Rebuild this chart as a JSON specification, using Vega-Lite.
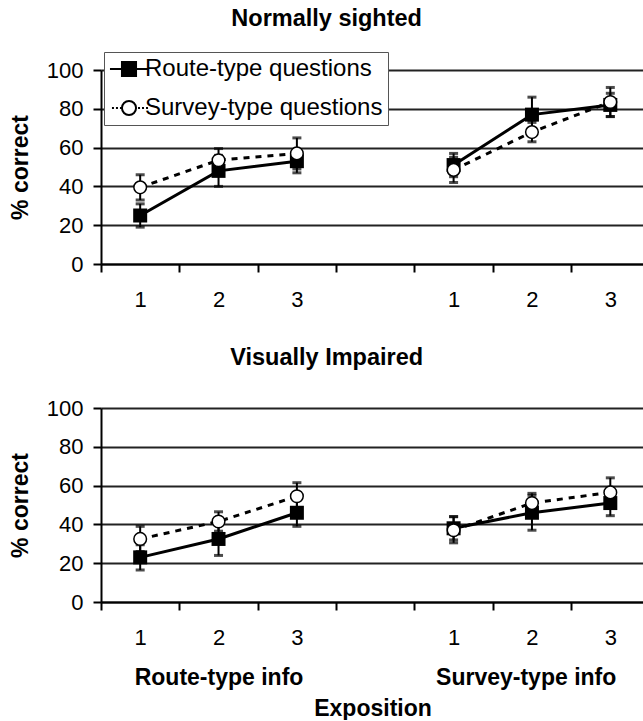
{
  "$schema": "https://vega.github.io/schema/vega-lite/v6.json",
  "background": "white",
  "padding": {"left": 9, "top": 6, "right": 0, "bottom": 0},
  "spacing": 35,
  "config": {
    "view": {"stroke": null},
    "font": "Liberation Sans",
    "axis": {
      "domainColor": "black", "domainWidth": 2,
      "tickColor": "black", "tickWidth": 2, "tickSize": 8,
      "labelFont": "Liberation Sans", "labelFontSize": 22, "labelColor": "black",
      "gridColor": "#222", "gridWidth": 2,
      "titleFont": "Liberation Sans", "titleFontSize": 23, "titleFontWeight": "bold", "titleColor": "black"
    },
    "legend": {
      "title": null, "orient": "none", "legendX": 3, "legendY": -18,
      "strokeColor": "#555", "fillColor": "white", "padding": 5,
      "labelFont": "Liberation Sans", "labelFontSize": 24, "labelColor": "black", "labelLimit": 0,
      "symbolSize": 484, "symbolStrokeWidth": 2, "symbolOpacity": 1,
      "symbolOffset": 8, "labelOffset": 4, "rowPadding": 15
    },
    "title": {"font": "Liberation Sans", "fontSize": 23.5, "fontWeight": "bold", "color": "black", "anchor": "middle", "frame": "bounds"}
  },
  "data": {"values": [
    {"panel": "Normally sighted", "info": "Route-type info", "expo": 1, "series": "Route-type questions", "mean": 25, "lo": 19, "hi": 31},
    {"panel": "Normally sighted", "info": "Route-type info", "expo": 2, "series": "Route-type questions", "mean": 48, "lo": 40, "hi": 56},
    {"panel": "Normally sighted", "info": "Route-type info", "expo": 3, "series": "Route-type questions", "mean": 53, "lo": 47, "hi": 59},
    {"panel": "Normally sighted", "info": "Route-type info", "expo": 1, "series": "Survey-type questions", "mean": 39.5, "lo": 33, "hi": 46},
    {"panel": "Normally sighted", "info": "Route-type info", "expo": 2, "series": "Survey-type questions", "mean": 53.5, "lo": 47.5, "hi": 59.5},
    {"panel": "Normally sighted", "info": "Route-type info", "expo": 3, "series": "Survey-type questions", "mean": 57, "lo": 49, "hi": 65},
    {"panel": "Normally sighted", "info": "Survey-type info", "expo": 1, "series": "Route-type questions", "mean": 51, "lo": 45, "hi": 57},
    {"panel": "Normally sighted", "info": "Survey-type info", "expo": 2, "series": "Route-type questions", "mean": 77, "lo": 69, "hi": 86},
    {"panel": "Normally sighted", "info": "Survey-type info", "expo": 3, "series": "Route-type questions", "mean": 82, "lo": 76, "hi": 88},
    {"panel": "Normally sighted", "info": "Survey-type info", "expo": 1, "series": "Survey-type questions", "mean": 48.5, "lo": 42, "hi": 55},
    {"panel": "Normally sighted", "info": "Survey-type info", "expo": 2, "series": "Survey-type questions", "mean": 68, "lo": 63, "hi": 73},
    {"panel": "Normally sighted", "info": "Survey-type info", "expo": 3, "series": "Survey-type questions", "mean": 83.5, "lo": 76, "hi": 91},
    {"panel": "Visually Impaired", "info": "Route-type info", "expo": 1, "series": "Route-type questions", "mean": 23, "lo": 16.5, "hi": 29.5},
    {"panel": "Visually Impaired", "info": "Route-type info", "expo": 2, "series": "Route-type questions", "mean": 32.5, "lo": 24, "hi": 41},
    {"panel": "Visually Impaired", "info": "Route-type info", "expo": 3, "series": "Route-type questions", "mean": 46, "lo": 39, "hi": 53},
    {"panel": "Visually Impaired", "info": "Route-type info", "expo": 1, "series": "Survey-type questions", "mean": 32.5, "lo": 26, "hi": 39},
    {"panel": "Visually Impaired", "info": "Route-type info", "expo": 2, "series": "Survey-type questions", "mean": 41.5, "lo": 36.5, "hi": 46.5},
    {"panel": "Visually Impaired", "info": "Route-type info", "expo": 3, "series": "Survey-type questions", "mean": 54.5, "lo": 47.5, "hi": 61.5},
    {"panel": "Visually Impaired", "info": "Survey-type info", "expo": 1, "series": "Route-type questions", "mean": 38, "lo": 32, "hi": 44},
    {"panel": "Visually Impaired", "info": "Survey-type info", "expo": 2, "series": "Route-type questions", "mean": 46, "lo": 37, "hi": 55},
    {"panel": "Visually Impaired", "info": "Survey-type info", "expo": 3, "series": "Route-type questions", "mean": 51, "lo": 44.5, "hi": 57.5},
    {"panel": "Visually Impaired", "info": "Survey-type info", "expo": 1, "series": "Survey-type questions", "mean": 37, "lo": 30.5, "hi": 44},
    {"panel": "Visually Impaired", "info": "Survey-type info", "expo": 2, "series": "Survey-type questions", "mean": 51, "lo": 46, "hi": 56},
    {"panel": "Visually Impaired", "info": "Survey-type info", "expo": 3, "series": "Survey-type questions", "mean": 56.5, "lo": 49, "hi": 64}
  ]},
  "vconcat": [
    {
      "title": {"text": "Normally sighted", "offset": 29},
      "width": 543, "height": 194,
      "transform": [
        {"filter": "datum.panel == 'Normally sighted'"},
        {"calculate": "datum.expo + (datum.info == 'Survey-type info' ? 4 : 0)", "as": "xpos"}
      ],
      "layer": [
        {
          "transform": [{"filter": "datum.series == 'Route-type questions'"}],
          "mark": {"type": "line", "color": "black", "strokeWidth": 3},
          "encoding": {
            "x": {"field": "xpos", "type": "quantitative", "scale": {"domain": [0.5, 7.43], "nice": false, "zero": false},
              "axis": {"title": null, "values": [0.5, 1, 1.5, 2, 2.5, 3, 3.5, 4, 4.5, 5, 5.5, 6, 6.5, 7], "grid": false, "labelPadding": 17, "labelFlush": false, "labelOverlap": false, "labelExpr": "datum.value % 1 != 0 || datum.value == 4 ? '' : '' + (datum.value > 4 ? datum.value - 4 : datum.value)", "tickOpacity": {"condition": {"test": "datum.value % 1 != 0", "value": 1}, "value": 0}}},
            "y": {"field": "mean", "type": "quantitative", "scale": {"domain": [0, 100], "nice": false},
              "axis": {"title": "% correct", "values": [0, 20, 40, 60, 80, 100], "grid": true, "labelOverlap": false, "labelPadding": 10, "titlePadding": 14}},
            "detail": {"field": "info"}
          }
        },
        {
          "transform": [{"filter": "datum.series == 'Survey-type questions'"}],
          "mark": {"type": "line", "color": "black", "strokeWidth": 3, "strokeDash": [6, 6]},
          "encoding": {
            "x": {"field": "xpos", "type": "quantitative",
              "axis": {"title": null, "values": [0.5, 1, 1.5, 2, 2.5, 3, 3.5, 4, 4.5, 5, 5.5, 6, 6.5, 7], "grid": false, "labelPadding": 17, "labelFlush": false, "labelOverlap": false, "labelExpr": "datum.value % 1 != 0 || datum.value == 4 ? '' : '' + (datum.value > 4 ? datum.value - 4 : datum.value)", "tickOpacity": {"condition": {"test": "datum.value % 1 != 0", "value": 1}, "value": 0}}},
            "y": {"field": "mean", "type": "quantitative",
              "axis": {"title": "% correct", "values": [0, 20, 40, 60, 80, 100], "grid": true, "labelOverlap": false, "labelPadding": 10, "titlePadding": 14}},
            "detail": {"field": "info"}
          }
        },
        {
          "mark": {"type": "point", "filled": true, "opacity": 0, "size": 484, "strokeWidth": 2},
          "encoding": {
            "x": {"field": "xpos", "type": "quantitative",
              "axis": {"title": null, "values": [0.5, 1, 1.5, 2, 2.5, 3, 3.5, 4, 4.5, 5, 5.5, 6, 6.5, 7], "grid": false, "labelPadding": 17, "labelFlush": false, "labelOverlap": false, "labelExpr": "datum.value % 1 != 0 || datum.value == 4 ? '' : '' + (datum.value > 4 ? datum.value - 4 : datum.value)", "tickOpacity": {"condition": {"test": "datum.value % 1 != 0", "value": 1}, "value": 0}}},
            "y": {"field": "mean", "type": "quantitative",
              "axis": {"title": "% correct", "values": [0, 20, 40, 60, 80, 100], "grid": true, "labelOverlap": false, "labelPadding": 10, "titlePadding": 14}},
            "fill": {"field": "series", "type": "nominal",
              "scale": {"domain": ["Route-type questions", "Survey-type questions"], "range": ["black", "white"]},
              "legend": {"encode": {"symbols": {"update": {
                "stroke": {"value": "black"},
                "strokeWidth": {"value": 2},
                "opacity": {"value": 1},
                "fillOpacity": {"value": 1},
                "strokeOpacity": {"value": 1}
              }}}}},
            "strokeDash": {"field": "series", "type": "nominal",
              "scale": {"domain": ["Route-type questions", "Survey-type questions"], "range": [[1, 0], [2, 2, 2, 2, 2, 2, 46, 2]]}},
            "shape": {"field": "series", "type": "nominal",
              "scale": {"domain": ["Route-type questions", "Survey-type questions"],
                "range": ["M-1.73,0H1.73M-0.64,-0.64H0.64V0.64H-0.64Z", "M1.73,0H0.64A0.64,0.64 0 1,0 -0.64,0A0.64,0.64 0 1,0 0.64,0M-0.64,0H-1.73"]}}
          }
        },
        {
          "mark": {"type": "rule", "color": "black", "strokeWidth": 2},
          "encoding": {
            "x": {"field": "xpos", "type": "quantitative",
              "axis": {"title": null, "values": [0.5, 1, 1.5, 2, 2.5, 3, 3.5, 4, 4.5, 5, 5.5, 6, 6.5, 7], "grid": false, "labelPadding": 17, "labelFlush": false, "labelOverlap": false, "labelExpr": "datum.value % 1 != 0 || datum.value == 4 ? '' : '' + (datum.value > 4 ? datum.value - 4 : datum.value)", "tickOpacity": {"condition": {"test": "datum.value % 1 != 0", "value": 1}, "value": 0}}},
            "y": {"field": "lo", "type": "quantitative",
              "axis": {"title": "% correct", "values": [0, 20, 40, 60, 80, 100], "grid": true, "labelOverlap": false, "labelPadding": 10, "titlePadding": 14}},
            "y2": {"field": "hi"}
          }
        },
        {
          "mark": {"type": "tick", "orient": "horizontal", "color": "black", "thickness": 3, "size": 9},
          "encoding": {
            "x": {"field": "xpos", "type": "quantitative",
              "axis": {"title": null, "values": [0.5, 1, 1.5, 2, 2.5, 3, 3.5, 4, 4.5, 5, 5.5, 6, 6.5, 7], "grid": false, "labelPadding": 17, "labelFlush": false, "labelOverlap": false, "labelExpr": "datum.value % 1 != 0 || datum.value == 4 ? '' : '' + (datum.value > 4 ? datum.value - 4 : datum.value)", "tickOpacity": {"condition": {"test": "datum.value % 1 != 0", "value": 1}, "value": 0}}},
            "y": {"field": "lo", "type": "quantitative",
              "axis": {"title": "% correct", "values": [0, 20, 40, 60, 80, 100], "grid": true, "labelOverlap": false, "labelPadding": 10, "titlePadding": 14}}
          }
        },
        {
          "mark": {"type": "tick", "orient": "horizontal", "color": "black", "thickness": 3, "size": 9},
          "encoding": {
            "x": {"field": "xpos", "type": "quantitative",
              "axis": {"title": null, "values": [0.5, 1, 1.5, 2, 2.5, 3, 3.5, 4, 4.5, 5, 5.5, 6, 6.5, 7], "grid": false, "labelPadding": 17, "labelFlush": false, "labelOverlap": false, "labelExpr": "datum.value % 1 != 0 || datum.value == 4 ? '' : '' + (datum.value > 4 ? datum.value - 4 : datum.value)", "tickOpacity": {"condition": {"test": "datum.value % 1 != 0", "value": 1}, "value": 0}}},
            "y": {"field": "hi", "type": "quantitative",
              "axis": {"title": "% correct", "values": [0, 20, 40, 60, 80, 100], "grid": true, "labelOverlap": false, "labelPadding": 10, "titlePadding": 14}}
          }
        },
        {
          "transform": [{"filter": "datum.series == 'Route-type questions'"}],
          "mark": {"type": "point", "shape": "square", "filled": true, "color": "black", "size": 196, "opacity": 1},
          "encoding": {
            "x": {"field": "xpos", "type": "quantitative",
              "axis": {"title": null, "values": [0.5, 1, 1.5, 2, 2.5, 3, 3.5, 4, 4.5, 5, 5.5, 6, 6.5, 7], "grid": false, "labelPadding": 17, "labelFlush": false, "labelOverlap": false, "labelExpr": "datum.value % 1 != 0 || datum.value == 4 ? '' : '' + (datum.value > 4 ? datum.value - 4 : datum.value)", "tickOpacity": {"condition": {"test": "datum.value % 1 != 0", "value": 1}, "value": 0}}},
            "y": {"field": "mean", "type": "quantitative",
              "axis": {"title": "% correct", "values": [0, 20, 40, 60, 80, 100], "grid": true, "labelOverlap": false, "labelPadding": 10, "titlePadding": 14}}
          }
        },
        {
          "transform": [{"filter": "datum.series == 'Survey-type questions'"}],
          "mark": {"type": "point", "shape": "circle", "filled": true, "fill": "white", "stroke": "black", "strokeWidth": 1.5, "size": 160, "opacity": 1},
          "encoding": {
            "x": {"field": "xpos", "type": "quantitative",
              "axis": {"title": null, "values": [0.5, 1, 1.5, 2, 2.5, 3, 3.5, 4, 4.5, 5, 5.5, 6, 6.5, 7], "grid": false, "labelPadding": 17, "labelFlush": false, "labelOverlap": false, "labelExpr": "datum.value % 1 != 0 || datum.value == 4 ? '' : '' + (datum.value > 4 ? datum.value - 4 : datum.value)", "tickOpacity": {"condition": {"test": "datum.value % 1 != 0", "value": 1}, "value": 0}}},
            "y": {"field": "mean", "type": "quantitative",
              "axis": {"title": "% correct", "values": [0, 20, 40, 60, 80, 100], "grid": true, "labelOverlap": false, "labelPadding": 10, "titlePadding": 14}}
          }
        }
      ]
    },
    {
      "title": {"text": "Visually Impaired", "offset": 28},
      "width": 543, "height": 194,
      "transform": [
        {"filter": "datum.panel == 'Visually Impaired'"},
        {"calculate": "datum.expo + (datum.info == 'Survey-type info' ? 4 : 0)", "as": "xpos"}
      ],
      "resolve": {"axis": {"x": "independent"}},
      "layer": [
        {
          "transform": [{"filter": "datum.series == 'Route-type questions'"}],
          "mark": {"type": "line", "color": "black", "strokeWidth": 3},
          "encoding": {
            "x": {"field": "xpos", "type": "quantitative", "scale": {"domain": [0.5, 7.43], "nice": false, "zero": false},
              "axis": {"orient": "bottom", "title": null, "values": [0.5, 1, 1.5, 2, 2.5, 3, 3.5, 4, 4.5, 5, 5.5, 6, 6.5, 7], "grid": false, "labelPadding": 17, "labelFlush": false, "labelOverlap": false, "labelExpr": "datum.value % 1 != 0 || datum.value == 4 ? '' : '' + (datum.value > 4 ? datum.value - 4 : datum.value)", "tickOpacity": {"condition": {"test": "datum.value % 1 != 0", "value": 1}, "value": 0}}},
            "y": {"field": "mean", "type": "quantitative", "scale": {"domain": [0, 100], "nice": false},
              "axis": {"title": "% correct", "values": [0, 20, 40, 60, 80, 100], "grid": true, "labelOverlap": false, "labelPadding": 10, "titlePadding": 14}},
            "detail": {"field": "info"}
          }
        },
        {
          "transform": [{"filter": "datum.series == 'Survey-type questions'"}],
          "mark": {"type": "line", "color": "black", "strokeWidth": 3, "strokeDash": [6, 6]},
          "encoding": {
            "x": {"field": "xpos", "type": "quantitative", "axis": null},
            "y": {"field": "mean", "type": "quantitative",
              "axis": {"title": "% correct", "values": [0, 20, 40, 60, 80, 100], "grid": true, "labelOverlap": false, "labelPadding": 10, "titlePadding": 14}},
            "detail": {"field": "info"}
          }
        },
        {
          "mark": {"type": "rule", "color": "black", "strokeWidth": 2},
          "encoding": {
            "x": {"field": "xpos", "type": "quantitative",
              "axis": {"orient": "bottom", "title": "Exposition", "values": [2, 5.92], "grid": false, "domain": false, "ticks": false,
                "labelPadding": 64, "labelFontWeight": "bold", "labelFontSize": 23, "labelLimit": 0, "labelFlush": false, "labelOverlap": false, "titlePadding": 8,
                "labelExpr": "datum.value < 4 ? 'Route-type info' : 'Survey-type info'"}},
            "y": {"field": "lo", "type": "quantitative",
              "axis": {"title": "% correct", "values": [0, 20, 40, 60, 80, 100], "grid": true, "labelOverlap": false, "labelPadding": 10, "titlePadding": 14}},
            "y2": {"field": "hi"}
          }
        },
        {
          "mark": {"type": "tick", "orient": "horizontal", "color": "black", "thickness": 3, "size": 9},
          "encoding": {
            "x": {"field": "xpos", "type": "quantitative", "axis": null},
            "y": {"field": "lo", "type": "quantitative",
              "axis": {"title": "% correct", "values": [0, 20, 40, 60, 80, 100], "grid": true, "labelOverlap": false, "labelPadding": 10, "titlePadding": 14}}
          }
        },
        {
          "mark": {"type": "tick", "orient": "horizontal", "color": "black", "thickness": 3, "size": 9},
          "encoding": {
            "x": {"field": "xpos", "type": "quantitative", "axis": null},
            "y": {"field": "hi", "type": "quantitative",
              "axis": {"title": "% correct", "values": [0, 20, 40, 60, 80, 100], "grid": true, "labelOverlap": false, "labelPadding": 10, "titlePadding": 14}}
          }
        },
        {
          "transform": [{"filter": "datum.series == 'Route-type questions'"}],
          "mark": {"type": "point", "shape": "square", "filled": true, "color": "black", "size": 196, "opacity": 1},
          "encoding": {
            "x": {"field": "xpos", "type": "quantitative", "axis": null},
            "y": {"field": "mean", "type": "quantitative",
              "axis": {"title": "% correct", "values": [0, 20, 40, 60, 80, 100], "grid": true, "labelOverlap": false, "labelPadding": 10, "titlePadding": 14}}
          }
        },
        {
          "transform": [{"filter": "datum.series == 'Survey-type questions'"}],
          "mark": {"type": "point", "shape": "circle", "filled": true, "fill": "white", "stroke": "black", "strokeWidth": 1.5, "size": 160, "opacity": 1},
          "encoding": {
            "x": {"field": "xpos", "type": "quantitative", "axis": null},
            "y": {"field": "mean", "type": "quantitative",
              "axis": {"title": "% correct", "values": [0, 20, 40, 60, 80, 100], "grid": true, "labelOverlap": false, "labelPadding": 10, "titlePadding": 14}}
          }
        }
      ]
    }
  ]
}
